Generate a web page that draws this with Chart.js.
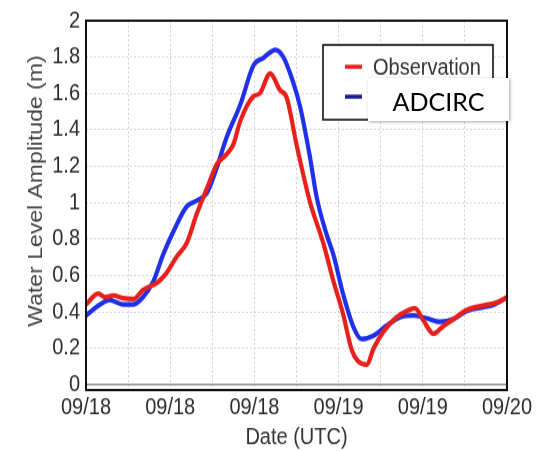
<!DOCTYPE html>
<html>
<head>
<meta charset="utf-8">
<script src="https://cdn.jsdelivr.net/npm/chart.js@4/dist/chart.umd.min.js"></script>
<style>
  body { margin: 0; background: #fff; }
  #wrap {
    position: absolute; left: 0; top: 0; width: 545px; height: 392px;
    transform: scaleY(1.1505); transform-origin: 0 0;
  }
  #patch {
    position: absolute; left: 368px; top: 78px; width: 141px; height: 43px;
    background: #fff; box-shadow: 1px 1px 3px rgba(0, 0, 0, 0.35);
    font-family: Lato, "Open Sans", sans-serif; font-size: 25px; color: #000;
    display: flex; align-items: center; justify-content: center; padding-top: 3px;
    box-sizing: border-box;
  }
</style>
</head>
<body>
<div id="wrap"><canvas id="chart" width="545" height="392"></canvas></div>
<div id="patch">ADCIRC</div>
<script>
// hours after 09/18 00:00 UTC, water level in m
let obsHours = [0, 1.4, 2.2, 3.1, 4.2, 5.4, 6.5, 8.1, 9.2, 10.3, 11.5, 12.6, 13.8, 14.9, 16.0, 16.8,
  17.6, 19.1, 19.8, 21.0, 22.1, 22.9, 24.0, 25.5, 27.1, 28.2, 29.3, 30.3, 31.0, 32.0, 32.8, 33.9,
  35.4, 36.6, 37.5, 38.5, 39.6, 40.7, 41.9, 43.4, 45.3, 46.8, 48];
let obsLevel = [0.44, 0.50, 0.48, 0.49, 0.475, 0.47, 0.52, 0.56, 0.615, 0.70, 0.78, 0.935, 1.08, 1.21, 1.265, 1.32,
  1.45, 1.585, 1.60, 1.71, 1.62, 1.575, 1.32, 1.01, 0.77, 0.57, 0.39, 0.19, 0.13, 0.11, 0.20, 0.29,
  0.37, 0.405, 0.42, 0.35, 0.28, 0.32, 0.36, 0.41, 0.435, 0.45, 0.48];

let modelHours = [0, 1.6, 2.7, 4.2, 5.4, 6.5, 7.7, 8.8, 10.0, 11.5, 12.6, 13.8, 14.9, 16.0, 17.6, 19.1,
  20.2, 21.6, 22.5, 23.6, 24.4, 25.5, 26.3, 27.4, 28.2, 29.3, 30.5, 31.4, 32.8, 34.3, 35.8, 37.3,
  38.8, 40.4, 41.9, 43.4, 45.3, 46.5, 48];
let modelLevel = [0.38, 0.44, 0.465, 0.44, 0.44, 0.48, 0.57, 0.715, 0.845, 0.98, 1.01, 1.055, 1.19, 1.355, 1.54, 1.755,
  1.795, 1.84, 1.80, 1.665, 1.53, 1.26, 1.03, 0.83, 0.715, 0.50, 0.315, 0.25, 0.27, 0.325, 0.37, 0.38,
  0.365, 0.345, 0.36, 0.405, 0.425, 0.44, 0.48];

let xGridHours = [0, 4.8, 9.6, 14.4, 19.2, 24, 28.8, 33.6, 38.4, 43.2, 48];
let xTickLabels = ["09/18", "09/18", "09/18", "09/19", "09/19", "09/20"];
let yTickValues = [0, 0.2, 0.4, 0.6, 0.8, 1, 1.2, 1.4, 1.6, 1.8, 2];

let toPoints = (xs, ys) => xs.map((x, i) => ({ x: x, y: ys[i] }));

const tickFont = { family: "'Liberation Sans', Arial, sans-serif", size: 20 };

// frame, zero line, legend box and y title, drawn like the original figure
const framePlugin = {
  id: "frame",
  beforeDatasetsDraw(chart) {
    const { ctx, chartArea: a, scales } = chart;
    const y0 = scales.y.getPixelForValue(0);
    ctx.save();
    ctx.strokeStyle = "#8c8c8c";
    ctx.lineWidth = 1.5;
    ctx.beginPath();
    ctx.moveTo(a.left, y0);
    ctx.lineTo(a.right, y0);
    ctx.stroke();
    ctx.restore();
  },
  afterDraw(chart) {
    const { ctx, chartArea: a } = chart;
    ctx.save();
    ctx.strokeStyle = "#111";
    ctx.lineWidth = 2;
    ctx.strokeRect(a.left, a.top, a.right - a.left, a.bottom - a.top);

    // legend
    const lx = a.right - 184, ly = a.top + 21;
    ctx.fillStyle = "#fff";
    ctx.fillRect(lx, ly, 170, 65);
    ctx.lineWidth = 1.6;
    ctx.strokeRect(lx, ly, 170, 65);
    const swatch = ["#e8201c", "#1c1c8c"];
    chart.data.datasets.forEach((ds, i) => {
      const cy = ly + 19 + i * 26;
      ctx.strokeStyle = swatch[i];
      ctx.lineWidth = 3.5;
      ctx.beginPath();
      ctx.moveTo(lx + 22, cy);
      ctx.lineTo(lx + 39, cy);
      ctx.stroke();
      ctx.fillStyle = "#333";
      ctx.font = "20px 'Liberation Sans', Arial, sans-serif";
      ctx.textBaseline = "middle";
      ctx.textAlign = "left";
      ctx.fillText(ds.label, lx + 50, cy + 1);
    });

    // y axis title
    ctx.translate(42, 166);
    ctx.rotate(-Math.PI / 2);
    ctx.fillStyle = "#444";
    ctx.font = "20px 'Liberation Sans', Arial, sans-serif";
    ctx.textAlign = "center";
    ctx.textBaseline = "alphabetic";
    ctx.fillText("Water Level Amplitude (m)", 0, 0);
    ctx.restore();
  },
};

renderWaterLevelChart();

function renderWaterLevelChart() {
  let canvas = document.querySelector("#chart");
  new Chart(canvas, {
    type: "line",
    data: {
      datasets: [
        {
          label: "Observation",
          data: toPoints(obsHours, obsLevel),
          borderColor: "#e8201c",
          borderWidth: 4.2,
          pointRadius: 0,
          cubicInterpolationMode: "monotone",
        },
        {
          label: "ADCIRC",
          data: toPoints(modelHours, modelLevel),
          borderColor: "#1f30e6",
          borderWidth: 4.2,
          pointRadius: 0,
          cubicInterpolationMode: "monotone",
        },
      ],
    },
    options: {
      responsive: false,
      animation: false,
      layout: { padding: { top: 16.5, right: 38, left: 0, bottom: 0 } },
      plugins: { legend: { display: false }, tooltip: { enabled: false } },
      scales: {
        x: {
          type: "linear",
          min: 0,
          max: 48,
          afterBuildTicks: (scale) => {
            scale.ticks = xGridHours.map((v) => ({ value: v }));
          },
          afterFit: (scale) => {
            scale.height = 53;
          },
          ticks: {
            autoSkip: false,
            maxRotation: 0,
            padding: 3,
            color: "#2b2b2b",
            font: tickFont,
            callback: (value, index) => (index % 2 === 0 ? xTickLabels[index / 2] : ""),
          },
          grid: { color: "#d4d4d4", lineWidth: 1, drawTicks: false },
          border: { display: false, dash: [2, 2] },
          title: {
            display: true,
            text: "Date (UTC)",
            color: "#333",
            font: tickFont,
            padding: { top: 0, bottom: 0 },
          },
        },
        y: {
          min: -0.03,
          max: 2,
          afterBuildTicks: (scale) => {
            scale.ticks = yTickValues.map((v) => ({ value: v }));
          },
          afterFit: (scale) => {
            scale.width = 86;
          },
          ticks: {
            padding: 6,
            color: "#2b2b2b",
            font: tickFont,
            callback: (value) => String(value),
          },
          grid: { color: "#d4d4d4", lineWidth: 1, drawTicks: false },
          border: { display: false, dash: [2, 2] },
        },
      },
    },
    plugins: [framePlugin],
  });
}
</script>
</body>
</html>
